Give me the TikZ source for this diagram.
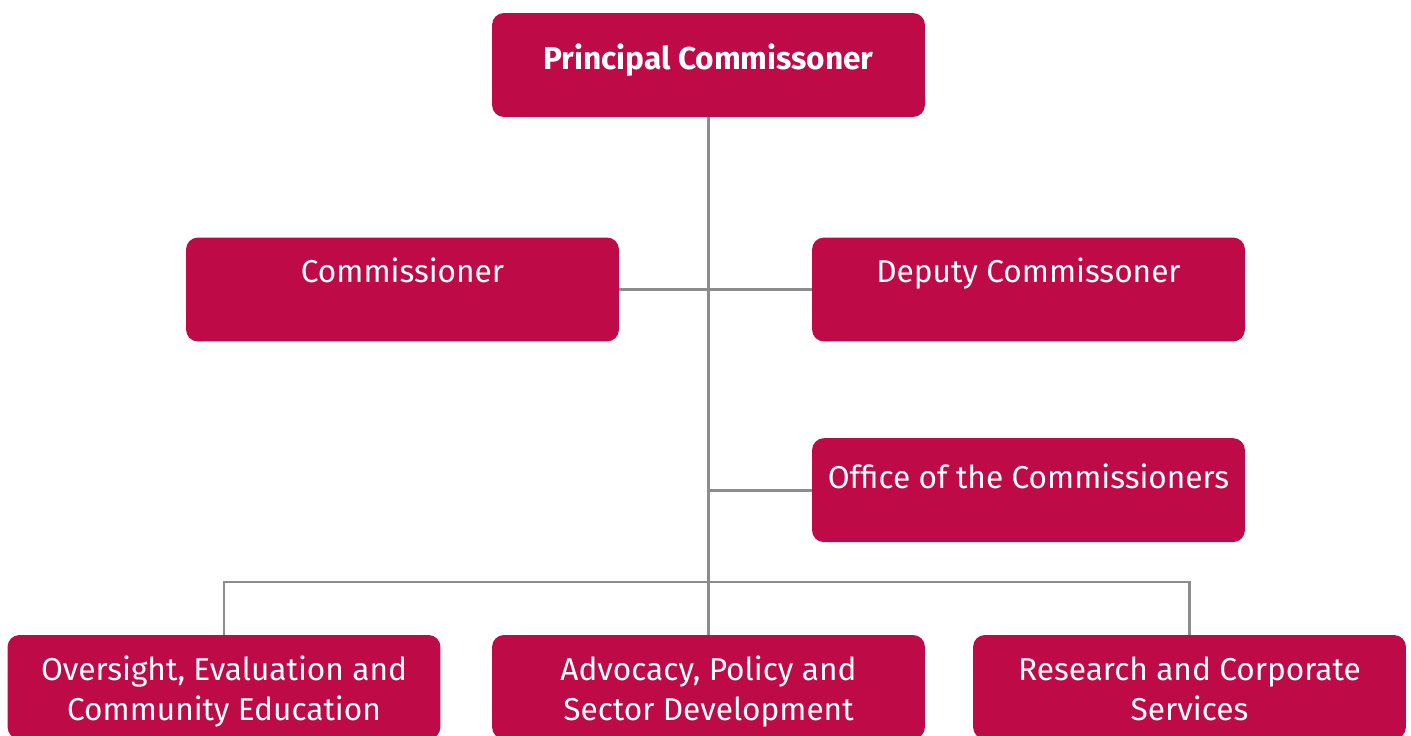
\documentclass[tikz,border=0pt]{standalone}
\usepackage{fontspec}
\setmainfont{Fira Sans}
\usepackage{xcolor}
\usetikzlibrary{positioning}
\definecolor{crimson}{RGB}{190,10,70}
\definecolor{linkgray}{RGB}{140,140,140}

\begin{document}
\begin{tikzpicture}[x=0.02cm, y=-0.02cm,
  box/.style={fill=crimson, rounded corners=0.24cm, text=white, align=center, font=\fontsize{18}{23.3}\selectfont, minimum width=8.66cm, minimum height=2.08cm, inner sep=0pt},
  lift/.style={text height=0.5cm, text depth=#1},
  twoline/.style={text height=1.5cm, text depth=0.14cm},
  link/.style={draw=linkgray, line width=1.6pt}]
\useasboundingbox (0,0) rectangle (1411,736);
\node[box, lift=0.3cm] (pc) at (708.5,65) {\textbf{Principal Commissoner}};
\node[box, lift=0.78cm] (comm) at (402.5,289.5) {Commissioner};
\node[box, lift=0.78cm] (dep) at (1028.5,289.5) {Deputy Commissoner};
\node[box, lift=0.58cm, below=1.92cm of dep] (off) {Office of the Commissioners};
\node[box, twoline] (apsd) at (708.5,687) {Advocacy, Policy and\\Sector Development};
\node[box, twoline] (oec) at (224,687) {Oversight, Evaluation and\\Community Education};
\node[box, twoline] (rcs) at (1189.5,687) {Research and Corporate\\Services};
\coordinate (bus) at (708.5,582);
\draw[link] (pc) -- (apsd);
\draw[link] (comm) -- (dep);
\draw[link] (off.west) -- (off.west -| pc.south);
\draw[link] (oec.north) |- (bus) -| (rcs.north);
\end{tikzpicture}
\end{document}
